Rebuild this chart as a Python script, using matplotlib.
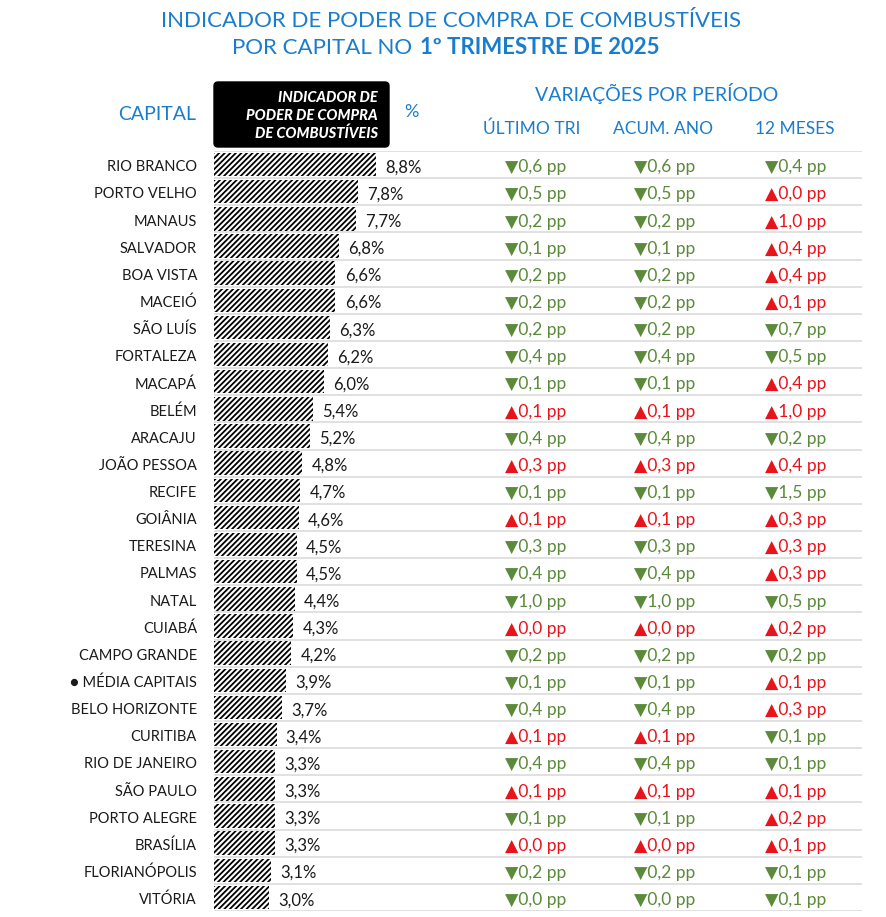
import matplotlib
matplotlib.use("Agg")
import matplotlib.pyplot as plt
import matplotlib.transforms as mtransforms
from matplotlib.patches import FancyBboxPatch

plt.rcParams['font.family'] = ['Lato', 'DejaVu Sans']
plt.rcParams['hatch.linewidth'] = 1.3

# dados
capitais = ["RIO BRANCO", "PORTO VELHO", "MANAUS", "SALVADOR", "BOA VISTA", "MACEIÓ",
            "SÃO LUÍS", "FORTALEZA", "MACAPÁ", "BELÉM", "ARACAJU", "JOÃO PESSOA",
            "RECIFE", "GOIÂNIA", "TERESINA", "PALMAS", "NATAL", "CUIABÁ",
            "CAMPO GRANDE", "● MÉDIA CAPITAIS", "BELO HORIZONTE", "CURITIBA",
            "RIO DE JANEIRO", "SÃO PAULO", "PORTO ALEGRE", "BRASÍLIA",
            "FLORIANÓPOLIS", "VITÓRIA"]
indicador = [8.8, 7.8, 7.7, 6.8, 6.6, 6.6, 6.3, 6.2, 6.0, 5.4, 5.2, 4.8, 4.7, 4.6,
             4.5, 4.5, 4.4, 4.3, 4.2, 3.9, 3.7, 3.4, 3.3, 3.3, 3.3, 3.3, 3.1, 3.0]

# variacoes em pp; direcao: 'd' = queda (verde), 'u' = alta (vermelho)
ultimo_tri = [0.6, 0.5, 0.2, 0.1, 0.2, 0.2, 0.2, 0.4, 0.1, 0.1, 0.4, 0.3, 0.1, 0.1,
              0.3, 0.4, 1.0, 0.0, 0.2, 0.1, 0.4, 0.1, 0.4, 0.1, 0.1, 0.0, 0.2, 0.0]
ultimo_tri_dir = ["d", "d", "d", "d", "d", "d", "d", "d", "d", "u", "d", "u", "d", "u",
                  "d", "d", "d", "u", "d", "d", "d", "u", "d", "u", "d", "u", "d", "d"]
acum_ano = [0.6, 0.5, 0.2, 0.1, 0.2, 0.2, 0.2, 0.4, 0.1, 0.1, 0.4, 0.3, 0.1, 0.1,
            0.3, 0.4, 1.0, 0.0, 0.2, 0.1, 0.4, 0.1, 0.4, 0.1, 0.1, 0.0, 0.2, 0.0]
acum_ano_dir = ["d", "d", "d", "d", "d", "d", "d", "d", "d", "u", "d", "u", "d", "u",
                "d", "d", "d", "u", "d", "d", "d", "u", "d", "u", "d", "u", "d", "d"]
doze_meses = [0.4, 0.0, 1.0, 0.4, 0.4, 0.1, 0.7, 0.5, 0.4, 1.0, 0.2, 0.4, 1.5, 0.3,
              0.3, 0.3, 0.5, 0.2, 0.2, 0.1, 0.3, 0.1, 0.1, 0.1, 0.2, 0.1, 0.1, 0.1]
doze_meses_dir = ["d", "u", "u", "u", "u", "u", "d", "d", "u", "u", "d", "u", "d", "u",
                  "u", "u", "d", "u", "d", "u", "u", "d", "d", "u", "u", "u", "d", "d"]

colunas = ["ÚLTIMO TRI", "ACUM. ANO", "12 MESES"]

azul = "#1a7dcc"
verde = "#5b8a3a"
vermelho = "#e8141b"

W, H = 886, 917
fig = plt.figure(figsize=(W / 100, H / 100), dpi=100)
ax = fig.add_axes([0, 0, 1, 1])
ax.set_xlim(0, W)
ax.set_ylim(H, 0)
ax.axis("off")

# area das barras
x0, x1, y0, y1 = 214, 862, 151, 911
px_por_pct = 18.4
n = len(capitais)
bx = fig.add_axes([x0 / W, 1 - y1 / H, (x1 - x0) / W, (y1 - y0) / H])
bx.set_xlim(0, (x1 - x0) / px_por_pct)
bx.set_ylim(n - 0.5, -0.5)
bx.axis("off")

linhas = range(n)
bx.barh(linhas, indicador, height=0.86, color="white", edgecolor="black",
        hatch="//////", linewidth=0)
for i in range(n + 1):
    bx.axhline(i - 0.5, color="#dedede", lw=1.3, zorder=0)

dy = 0.1  # pequeno ajuste vertical do texto
for i, v in enumerate(indicador):
    bx.text(v + 0.5, i + dy, f"{v:.1f}%".replace(".", ","), va="center",
            ha="left", fontsize=12, color="#1a1a1a")

trans = mtransforms.blended_transform_factory(ax.transData, bx.transData)
for i, nome in enumerate(capitais):
    ax.text(197, i + dy, nome, transform=trans, ha="right", va="center",
            fontsize=10.5, color="#1a1a1a")

col_x = [536, 665, 796]
series = [(ultimo_tri, ultimo_tri_dir), (acum_ano, acum_ano_dir),
          (doze_meses, doze_meses_dir)]
for cx, (vals, dirs) in zip(col_x, series):
    for i, (v, d) in enumerate(zip(vals, dirs)):
        seta = "▼" if d == "d" else "▲"
        cor = verde if d == "d" else vermelho
        ax.text(cx, i + dy, f"{seta}{v:.1f} pp".replace(".", ","), transform=trans,
                ha="center", va="center", fontsize=12.5, color=cor)

# titulo
ax.text(451, 21, "INDICADOR DE PODER DE COMPRA DE COMBUSTÍVEIS", ha="center",
        va="center", fontsize=16, color=azul)
ax.text(418, 48, "POR CAPITAL NO ", ha="right", va="center", fontsize=16,
        color=azul)
ax.text(420, 48, "1º TRIMESTRE DE 2025", ha="left", va="center", fontsize=16,
        color=azul, fontweight="bold")

# cabecalhos
ax.text(196, 114, "CAPITAL", ha="right", va="center", fontsize=14, color=azul)
ax.text(411, 112, "%", ha="center", va="center", fontsize=13, color=azul)
ax.add_patch(FancyBboxPatch((218, 86), 167, 57, boxstyle="round,pad=4",
                            fc="black", ec="black"))
for k, s in enumerate(["INDICADOR DE", "PODER DE COMPRA", "DE COMBUSTÍVEIS"]):
    ax.text(378, 98 + 18 * k, s, ha="right", va="center", fontsize=10.5,
            color="white", fontweight="black", fontstyle="italic")
ax.text(657, 94, "VARIAÇÕES POR PERÍODO", ha="center", va="center",
        fontsize=14, color=azul)
for cx, c in zip([532, 663, 795], colunas):
    ax.text(cx, 129, c, ha="center", va="center", fontsize=12.5, color=azul)

fig.savefig("out.png", dpi=100)
